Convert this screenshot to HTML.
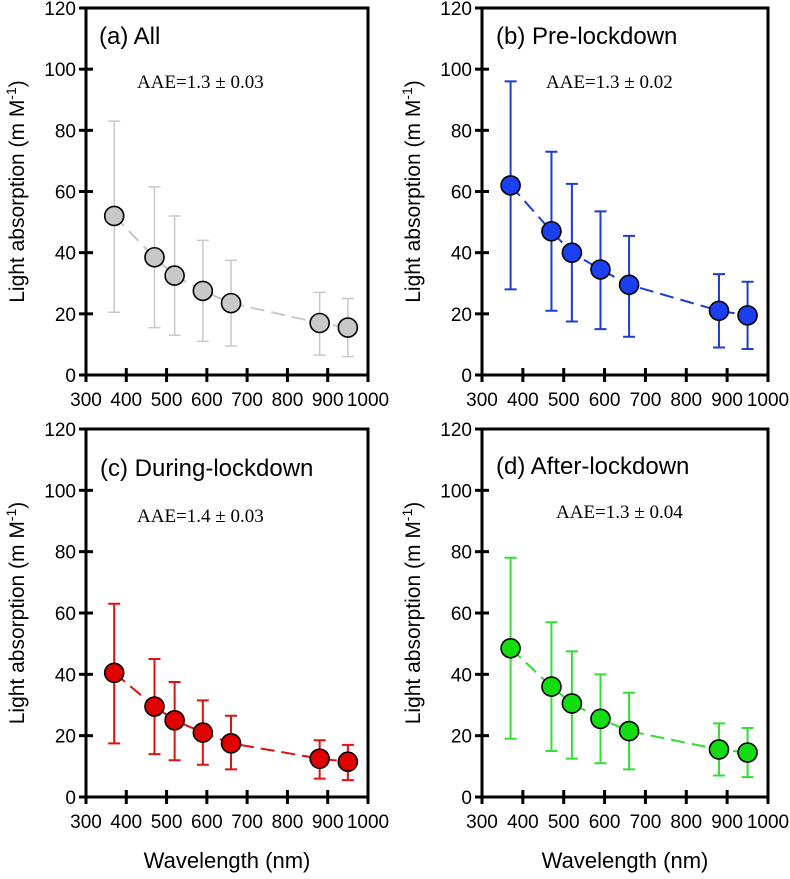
<!DOCTYPE html>
<html><head><meta charset="utf-8"><style>
body{margin:0;background:#fff}
svg{display:block}
text{font-family:"Liberation Sans",Arial,sans-serif}
</style></head><body>
<svg id="fig" width="790" height="879" xmlns="http://www.w3.org/2000/svg"></svg>
<script>
const wavelengths=[370,470,520,590,660,880,950];
const meanA=[52,38.5,32.5,27.5,23.5,17,15.5];
const lowA=[20.5,15.5,13,11,9.5,6.5,6];
const highA=[83,61.5,52,44,37.5,27,25];
const meanB=[62,47,40,34.5,29.5,21,19.5];
const lowB=[28,21,17.5,15,12.5,9,8.5];
const highB=[96,73,62.5,53.5,45.5,33,30.5];
const meanC=[40.5,29.5,25,21,17.5,12.5,11.5];
const lowC=[17.5,14,12,10.5,9,6,5.5];
const highC=[63,45,37.5,31.5,26.5,18.5,17];
const meanD=[48.5,36,30.5,25.5,21.5,15.5,14.5];
const lowD=[19,15,12.5,11,9,7,6.5];
const highD=[78,57,47.5,40,34,24,22.5];
const xTicks=[300,400,500,600,700,800,900,1000];
const yTicks=[0,20,40,60,80,100,120];
const titles=["(a) All","(b) Pre-lockdown","(c) During-lockdown","(d) After-lockdown"];
const aaeLabels=["AAE=1.3 \u00b1 0.03","AAE=1.3 \u00b1 0.02","AAE=1.4 \u00b1 0.03","AAE=1.3 \u00b1 0.04"];

const NS="http://www.w3.org/2000/svg";
const svg=document.getElementById('fig');
function mk(tag,attrs,parent){const e=document.createElementNS(NS,tag);for(const k in attrs)e.setAttribute(k,attrs[k]);(parent||svg).appendChild(e);return e;}

const panels=[
 {L:86,R:368,T:8,B:375,mean:meanA,low:lowA,high:highA,line:"#c8c8c8",fill:"#c8c8c8",err:"#c8c8c8",ew:1.5,name:"all",xlab:false,tx:99,ty:44,ax:137,ay:88},
 {L:482,R:768,T:8,B:375,mean:meanB,low:lowB,high:highB,line:"#1a3fd0",fill:"#1c3ff0",err:"#1a3fd0",ew:2,name:"pre-lockdown",xlab:false,tx:496,ty:44,ax:546,ay:88},
 {L:86,R:368,T:429,B:797,mean:meanC,low:lowC,high:highC,line:"#e01010",fill:"#e00000",err:"#e01010",ew:2,name:"during-lockdown",xlab:true,tx:100,ty:476,ax:137,ay:522},
 {L:482,R:768,T:429,B:797,mean:meanD,low:lowD,high:highD,line:"#33dd33",fill:"#11dd11",err:"#33dd33",ew:2,name:"after-lockdown",xlab:true,tx:496,ty:474,ax:556,ay:518}
];
panels.forEach((p,i)=>{
 const g=mk('g',{});
 
 
 const xs=v=>p.L+(v-300)/700*(p.R-p.L);
 const ys=v=>p.B-v/120*(p.B-p.T);
 const frame=mk('rect',{x:p.L,y:p.T,width:p.R-p.L,height:p.B-p.T,fill:"none",stroke:"#000","stroke-width":3},g);
 
 
 xTicks.forEach(t=>{
  const x=xs(t);
  mk('line',{x1:x,x2:x,y1:p.B-7,y2:p.B+7,stroke:"#000","stroke-width":3},g);
  const lb=mk('text',{x:x,y:p.B+31,"font-size":19,"text-anchor":"middle",fill:"#000"},g);
  lb.textContent=t;
  
  
 });
 yTicks.forEach(t=>{
  const y=ys(t);
  mk('line',{x1:p.L-7,x2:p.L+7,y1:y,y2:y,stroke:"#000","stroke-width":3},g);
  const lb=mk('text',{x:p.L-10,y:y+7,"font-size":19,"text-anchor":"end",fill:"#000"},g);
  lb.textContent=t;
  
  
 });
 const cy=(p.T+p.B)/2, cx=p.L-62;
 const yl=mk('text',{x:cx,y:cy,"font-size":21,"text-anchor":"middle",transform:`rotate(-90 ${cx} ${cy})`},g);
 yl.innerHTML='Light absorption (m M<tspan dy="-8" font-size="14">-1</tspan><tspan dy="8">)</tspan>';
 
 
 if(p.xlab){
  const xl=mk('text',{x:(p.L+p.R)/2,y:p.B+71,"font-size":22,"text-anchor":"middle"},g);
  xl.textContent="Wavelength (nm)";
  
  
 }
 const tt=mk('text',{x:p.tx,y:p.ty,"font-size":24},g);
 tt.textContent=titles[i];
 
 
 const aa=mk('text',{x:p.ax,y:p.ay,"font-size":19,style:'font-family:"Liberation Serif",serif'},g);
 aa.textContent=aaeLabels[i];
 
 
 const pts=wavelengths.map((w,k)=>xs(w)+','+ys(p.mean[k])).join(' ');
 const pl=mk('polyline',{points:pts,fill:"none",stroke:p.line,"stroke-width":2,"stroke-dasharray":"14,7"},g);
 
 
 wavelengths.forEach((w,k)=>{
  const x=xs(w),y1=ys(p.low[k]),y2=ys(p.high[k]);
  const eb=mk('path',{d:`M${x},${y1}V${y2}M${x-6},${y1}H${x+6}M${x-6},${y2}H${x+6}`,stroke:p.err,"stroke-width":p.ew,fill:"none"},g);
  
  
 });
 wavelengths.forEach((w,k)=>{
  const c=mk('circle',{cx:xs(w),cy:ys(p.mean[k]),r:9.5,fill:p.fill,stroke:"#000","stroke-width":1.6},g);
  
  
 });
});
</script>
</body></html>
